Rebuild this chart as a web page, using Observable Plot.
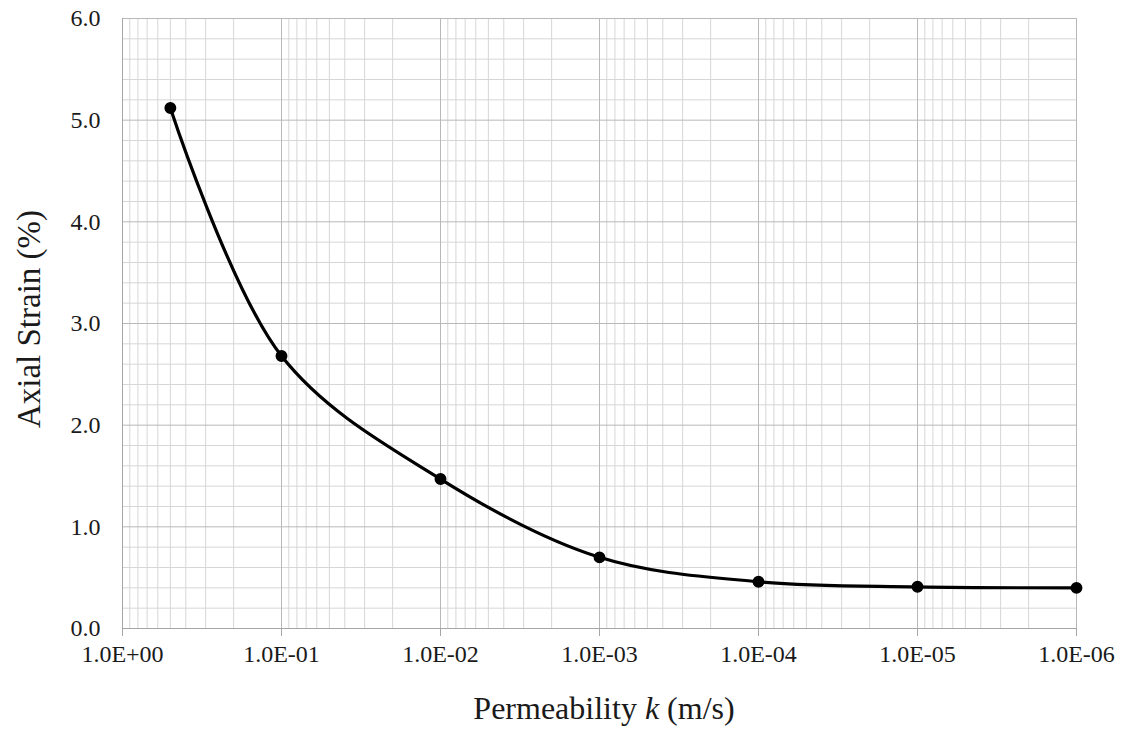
<!DOCTYPE html>
<html>
<head>
<meta charset="utf-8">
<script src="https://cdn.jsdelivr.net/npm/d3@7"></script>
<script src="https://cdn.jsdelivr.net/npm/@observablehq/plot@0.6"></script>
<style>
  html, body { margin: 0; padding: 0; background: #fff; }
  #chart svg { display: block; }
</style>
</head>
<body>
<div id="chart"></div>
<script>
// Data
const permeability = [0.5, 1e-1, 1e-2, 1e-3, 1e-4, 1e-5, 1e-6];
const axialStrain  = [5.12, 2.68, 1.47, 0.70, 0.46, 0.41, 0.40];

const xTickValues = [1, 1e-1, 1e-2, 1e-3, 1e-4, 1e-5, 1e-6];
const xTickLabels = ["1.0E+00", "1.0E-01", "1.0E-02", "1.0E-03", "1.0E-04", "1.0E-05", "1.0E-06"];
const yTickValues = [0, 1, 2, 3, 4, 5, 6];
const yTickLabels = ["0.0", "1.0", "2.0", "3.0", "4.0", "5.0", "6.0"];

const points = permeability.map((k, i) => ({k, strain: axialStrain[i]}));

// minor gridlines: 2..9 within each decade, and every 0.2 on y
const xMinor = [];
for (let e = -6; e < 0; e++) for (let m = 2; m <= 9; m++) xMinor.push(m * Math.pow(10, e));
const yMinor = [];
for (let i = 0; i <= 30; i++) if (i % 5 !== 0) yMinor.push(i / 5);

const font = "Liberation Serif, Times New Roman, serif";

const chart = Plot.plot({
  width: 1126,
  height: 734,
  marginLeft: 122,
  marginRight: 50,
  marginTop: 18,
  marginBottom: 106,
  style: {fontFamily: font, fontSize: "24px", color: "#1a1a1a", background: "#fff"},
  x: {type: "log", domain: [1, 1e-6], axis: null},
  y: {domain: [0, 6], axis: null},
  marks: [
    Plot.ruleY(yMinor, {stroke: "#d6d6d6", strokeWidth: 1}),
    Plot.ruleX(xMinor, {stroke: "#d6d6d6", strokeWidth: 1}),
    Plot.ruleY(yTickValues.slice(1), {stroke: "#b8b8b8", strokeWidth: 1}),
    Plot.ruleX(xTickValues.slice(1), {stroke: "#b8b8b8", strokeWidth: 1}),
    Plot.ruleY([0], {stroke: "#a6a6a6", strokeWidth: 1}),
    Plot.ruleX([1], {stroke: "#a6a6a6", strokeWidth: 1}),
    Plot.axisX({
      ticks: xTickValues,
      tickFormat: (d) => xTickLabels[xTickValues.indexOf(d)],
      tickSize: 8,
      tickPadding: 8,
      stroke: "#a6a6a6",
      fill: "#1a1a1a",
      fontSize: 24,
      label: null
    }),
    Plot.axisY({
      ticks: yTickValues,
      tickFormat: (d) => yTickLabels[yTickValues.indexOf(d)],
      tickSize: 0,
      tickPadding: 22,
      fill: "#1a1a1a",
      fontSize: 24,
      label: null
    }),
    Plot.line(points, {x: "k", y: "strain", curve: "catmull-rom", stroke: "#000", strokeWidth: 3.2}),
    Plot.dot(points, {x: "k", y: "strain", r: 5.2, fill: "#000", stroke: "#000"})
  ]
});

const svg = d3.select(chart);
// x-axis title with italic k
const xt = svg.append("text")
  .attr("x", 604).attr("y", 719)
  .attr("text-anchor", "middle")
  .attr("font-family", font)
  .attr("font-size", 32)
  .attr("fill", "#1a1a1a");
xt.append("tspan").text("Permeability ");
xt.append("tspan").attr("font-style", "italic").text("k");
xt.append("tspan").text(" (m/s)");

// y-axis title
svg.append("text")
  .attr("transform", "translate(40,319) rotate(-90)")
  .attr("text-anchor", "middle")
  .attr("font-family", font)
  .attr("font-size", 33)
  .attr("fill", "#1a1a1a")
  .text("Axial Strain (%)");

document.getElementById("chart").appendChild(chart);
</script>
</body>
</html>
